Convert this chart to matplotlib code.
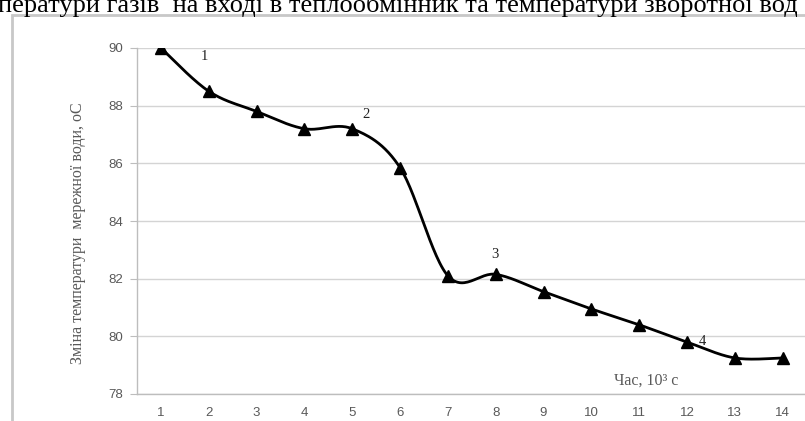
import numpy as np
import matplotlib
matplotlib.use("Agg")
import matplotlib.pyplot as plt
from matplotlib.patches import Rectangle

# Measurements: time (10^3 s) and network-water temperature change (°C)
time_k = [1, 2, 3, 4, 5, 6, 7, 8, 9, 10, 11, 12, 13, 14]
temperature = [90.0, 88.5, 87.8, 87.2, 87.2, 85.85, 82.1, 82.15, 81.55, 80.95, 80.4, 79.8, 79.25, 79.25]
y_ticks = [78, 80, 82, 84, 86, 88, 90]

# Stage markers along the curve
stage_labels = ["1", "2", "3", "4"]
stage_x = [1.9, 5.29, 7.99, 12.33]
stage_y = [89.69, 87.68, 82.84, 79.83]

heading = "ператури газів  на вході в теплообмінник та температури зворотної вод"
y_label = "Зміна температури  мережної води, оС"
x_label = "Час, 10³ с"


def smooth_curve(x, y, n=30):
    """Cubic Bezier smoothing through every point (Catmull-Rom style tangents)."""
    x = np.asarray(x, float)
    y = np.asarray(y, float)
    px = np.concatenate([[x[0]], x, [x[-1]]])
    py = np.concatenate([[y[0]], y, [y[-1]]])
    xs, ys = [], []
    t = np.linspace(0, 1, n)
    for i in range(1, len(px) - 2):
        p0 = np.array([px[i], py[i]])
        p3 = np.array([px[i + 1], py[i + 1]])
        c1 = p0 + (np.array([px[i + 1], py[i + 1]]) - np.array([px[i - 1], py[i - 1]])) / 6
        c2 = p3 - (np.array([px[i + 2], py[i + 2]]) - np.array([px[i], py[i]])) / 6
        b = ((1 - t) ** 3)[:, None] * p0 + (3 * (1 - t) ** 2 * t)[:, None] * c1 \
            + (3 * (1 - t) * t ** 2)[:, None] * c2 + (t ** 3)[:, None] * p3
        xs.append(b[:, 0])
        ys.append(b[:, 1])
    return np.concatenate(xs), np.concatenate(ys)


fig = plt.figure(figsize=(8.05, 4.21), dpi=100)
fig.patch.set_facecolor("white")

# Outer chart frame
fig.patches.append(Rectangle((12 / 805, -0.05), 1.2, 1 - 15 / 421 + 0.05,
                             transform=fig.transFigure, fill=False,
                             edgecolor="#c8c8c8", linewidth=2.0))

# Line of text running above the chart
fig.text(-0.002, 1 - 12 / 421, heading, family="Liberation Serif",
         fontsize=19, color="black", ha="left", va="baseline")

ax = fig.add_axes([137 / 805, 1 - 394 / 421, 1 - 137 / 805 + 0.002, (394 - 48) / 421])
ax.set_xlim(0.5, 14.5)
ax.set_ylim(78, 90)
ax.set_yticks(y_ticks)
ax.set_xticks(time_k)
ax.grid(axis="y", color="#d4d4d4", linewidth=1.0)
ax.set_axisbelow(True)
for side in ["top", "right"]:
    ax.spines[side].set_visible(False)
for side in ["left", "bottom"]:
    ax.spines[side].set_color("#bdbdbd")
    ax.spines[side].set_linewidth(1.0)
ax.tick_params(axis="y", length=5, color="#bdbdbd", labelsize=9.5, labelcolor="#595959", pad=5)
ax.tick_params(axis="x", length=0, labelsize=9.5, labelcolor="#595959", pad=9)
for lab in ax.get_xticklabels() + ax.get_yticklabels():
    lab.set_family("Liberation Sans")

sx, sy = smooth_curve(time_k, temperature)
ax.plot(sx, sy, color="black", linewidth=2.0, solid_capstyle="round", zorder=3)
ax.plot(time_k, temperature, linestyle="none", marker="^", markersize=8,
        color="black", zorder=4)

for lab, xx, yy in zip(stage_labels, stage_x, stage_y):
    ax.text(xx, yy, lab, family="Liberation Serif", fontsize=10.5,
            color="#222222", ha="center", va="center")

ax.text(11.15, 78.48, x_label, family="Liberation Serif", fontsize=11.5,
        color="#595959", ha="center", va="center")

fig.text(78 / 805, 1 - 233 / 421, y_label, family="Liberation Serif", fontsize=11.5,
         color="#595959", rotation=90, ha="center", va="center")

fig.savefig("out.png", dpi=100, facecolor="white")
